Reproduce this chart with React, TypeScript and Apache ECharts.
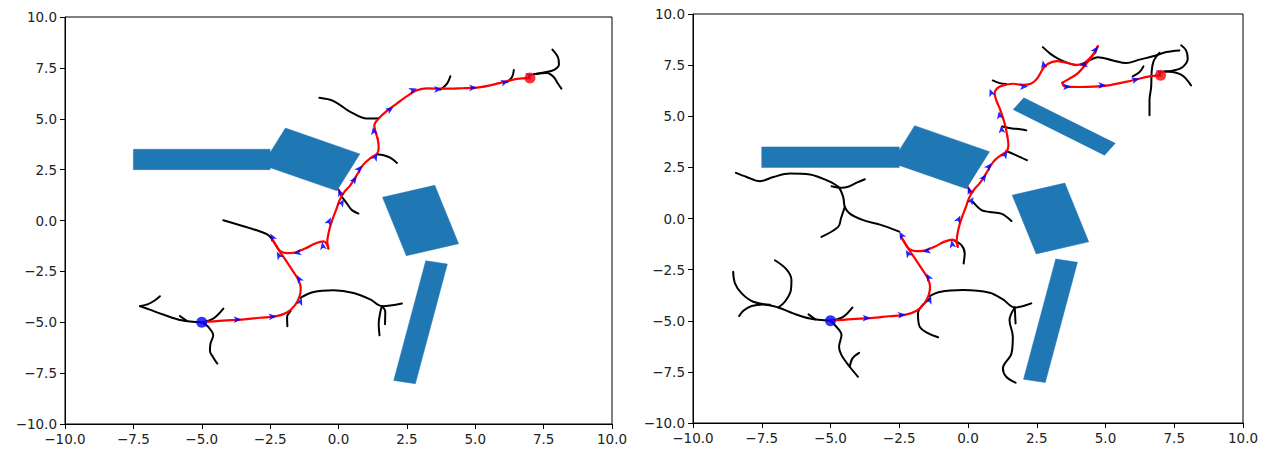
import React, { useEffect, useRef } from "react";
import * as echarts from "echarts";

// ---------- data (all in plot units) ----------
const tickMin = -10;
const tickMax = 10;
const tickStep = 2.5;

const startPoint = [-5, -5];
const goalPoint = [7, 7];

// obstacles (polygon vertices)
const obstacleBar = [[-7.5, 2.5], [-2.5, 2.5], [-2.5, 3.5], [-7.5, 3.5]];
const obstacleTilted = [[0.78, 3.27], [-0.06, 1.46], [-2.78, 2.73], [-1.94, 4.54]];
const obstacleSquare = [[1.61, 1.14], [3.52, 1.73], [4.39, -1.14], [2.48, -1.73]];
const obstacleLong = [[3.19, -1.98], [3.98, -2.14], [2.81, -8.02], [2.02, -7.86]];
const obstacleExtra = [[2.03, 5.9], [1.645, 5.325], [4.965, 3.095], [5.355, 3.675]];

const leftObstacles = [obstacleBar, obstacleTilted, obstacleSquare, obstacleLong];
const rightObstacles = [obstacleBar, obstacleTilted, obstacleSquare, obstacleLong, obstacleExtra];

// path pieces shared by both runs
const pathStart = [[-5, -5], [-4.21, -4.92], [-3.54, -4.87], [-2.87, -4.78], [-2.26, -4.7], [-1.87, -4.51], [-1.59, -4.16], [-1.43, -3.75], [-1.38, -3.34], [-1.46, -2.93], [-1.65, -2.52], [-1.89, -2.03], [-2.14, -1.54], [-2.32, -1.16], [-2.44, -0.89]];
const pathLoop = [[-2.44, -0.89], [-2.32, -1.13], [-2.14, -1.49], [-1.89, -1.6], [-1.59, -1.57], [-1.22, -1.38], [-0.85, -1.13], [-0.55, -1.03], [-0.43, -1.16], [-0.37, -1.38]];
const pathClimb = [[-0.37, -1.38], [-0.41, -1.05], [-0.34, -0.48], [-0.23, 0.02], [-0.08, 0.55], [0.04, 1.0], [0.2, 1.38], [0.43, 1.73], [0.67, 2.23], [0.92, 2.77], [1.19, 3.09], [1.41, 3.29], [1.47, 3.59], [1.43, 4.03]];
const pathSpur = [[0.1, 1.2], [0.0, 1.52]];

// left run tail
const leftPathTail = [[1.43, 4.03], [1.34, 4.44], [1.31, 4.68], [1.47, 5.01], [1.77, 5.39], [2.14, 5.75], [2.5, 6.11], [2.87, 6.4], [3.24, 6.49], [3.85, 6.48], [4.5, 6.5], [5.07, 6.53], [5.92, 6.76], [6.53, 6.96], [7, 7]];

// right run tail
const rightPathOut = [[1.43, 4.03], [1.36, 4.5], [1.3, 4.8], [1.18, 5.29], [1.03, 5.78], [0.97, 6.1], [1.05, 6.35], [1.27, 6.51], [1.64, 6.59], [2.0, 6.53], [2.3, 6.6], [2.51, 6.84], [2.73, 7.33], [2.91, 7.57], [3.21, 7.7], [3.57, 7.62], [3.94, 7.51], [4.2, 7.57], [4.44, 7.86], [4.64, 8.19], [4.72, 8.42]];
const rightPathBack = [[4.72, 8.42], [4.54, 7.98], [4.3, 7.57], [4.0, 7.11], [3.69, 6.84], [3.43, 6.64]];
const rightPathEnd = [[3.43, 6.64], [3.51, 6.46], [4.06, 6.43], [5.03, 6.5], [6.0, 6.76], [6.6, 6.95], [7, 7]];

// left tree branches
const lb1 = [[-5, -5], [-5.74, -4.9], [-6.41, -4.62], [-6.9, -4.38], [-7.26, -4.21]];
const lb2 = [[-7.26, -4.21], [-6.96, -4.11], [-6.71, -3.92], [-6.53, -3.72]];
const lb3 = [[-5, -5], [-4.58, -4.82], [-4.21, -4.33]];
const lb4 = [[-5.8, -4.69], [-5.55, -4.93]];
const lb5 = [[-5, -5], [-4.76, -5.23], [-4.58, -5.64], [-4.68, -6.05], [-4.7, -6.41], [-4.58, -6.73], [-4.43, -7.03]];
const lb6 = [[-4.21, 0.01], [-3.6, -0.23], [-2.99, -0.48], [-2.62, -0.67], [-2.44, -0.89]];
const lb7 = [[-1.75, -4.45], [-1.88, -4.75], [-1.87, -5.2]];
const lb8 = [[-1.4, -3.8], [-0.91, -3.51], [-0.18, -3.43], [0.55, -3.56], [1.16, -3.88], [1.59, -4.21], [2.32, -4.08]];
const lb9 = [[1.59, -4.21], [1.53, -4.49], [1.47, -5.06], [1.5, -5.64]];
const lb10 = [[1.59, -4.21], [1.71, -4.49], [1.7, -5.1]];
const lb11 = [[0.12, 1.16], [0.31, 0.83], [0.49, 0.51], [0.73, 0.34]];
const lb12 = [[1.41, 3.26], [1.65, 3.21], [1.89, 3.09], [2.14, 2.83]];
const lb13 = [[-0.7, 6.03], [-0.18, 5.87], [0.43, 5.34], [1.04, 5.01], [1.47, 5.03]];
const lb14 = [[3.73, 6.44], [3.97, 6.73], [4.09, 7.09]];
const lb15 = [[6.17, 6.81], [6.35, 7.06], [6.41, 7.39]];
const lb16 = [[7.14, 7.19], [7.51, 7.27], [7.9, 7.42], [8.06, 7.68], [8.02, 8.04], [7.82, 8.4]];
const lb17 = [[7.14, 7.19], [7.63, 7.25], [7.88, 7.03], [8.02, 6.73], [8.15, 6.48]];
const leftBranches = [lb1, lb2, lb3, lb4, lb5, lb6, lb7, lb8, lb9, lb10, lb11, lb12, lb13, lb14, lb15, lb16, lb17];

// right tree branches
const rb1 = [[-5, -5], [-5.75, -4.89], [-6.36, -4.64], [-6.9, -4.35], [-7.45, -4.2], [-7.87, -4.28], [-8.17, -4.51], [-8.32, -4.77]];
const rb2 = [[-6.9, -4.35], [-6.66, -4.07], [-6.44, -3.5], [-6.42, -3.01], [-6.6, -2.49], [-7.02, -2.04]];
const rb3 = [[-7.2, -4.22], [-7.81, -4.07], [-8.23, -3.66], [-8.47, -3.18], [-8.54, -2.61]];
const rb4 = [[-5, -5], [-4.54, -4.81], [-4.2, -4.35]];
const rb5 = [[-5.8, -4.69], [-5.55, -4.93]];
const rb6 = [[-5, -5], [-4.84, -5.21], [-4.6, -5.7], [-4.69, -6.27], [-4.6, -6.68], [-4.3, -7.25], [-4.0, -7.74]];
const rb7 = [[-4.3, -7.25], [-4.2, -6.84], [-3.96, -6.57]];
const rb8 = [[-2.5, -0.64], [-3.2, -0.3], [-3.81, -0.08], [-4.3, 0.24], [-4.48, 0.57], [-4.54, 1.06], [-4.72, 1.55], [-5.14, 1.87], [-5.75, 2.15], [-6.48, 2.2], [-7.08, 2.03], [-7.57, 1.82], [-8.05, 2.03], [-8.44, 2.23]];
const rb9 = [[-4.48, 0.57], [-4.62, 0.0], [-4.72, -0.41], [-5.33, -0.9]];
const rb10 = [[-4.96, 1.58], [-4.6, 1.5], [-4.36, 1.55], [-4.05, 1.75], [-3.75, 1.92]];
const rb11 = [[-1.39, -3.91], [-1.82, -4.64], [-1.75, -5.3], [-1.09, -5.81]];
const rb12 = [[-1.4, -3.8], [-1.03, -3.59], [-0.18, -3.5], [0.79, -3.63], [1.27, -3.96], [1.7, -4.35], [2.3, -4.15]];
const rb13 = [[1.7, -4.35], [1.51, -4.97], [1.63, -5.78], [1.58, -6.6], [1.27, -7.33], [1.39, -7.74], [1.73, -8.03]];
const rb14 = [[1.7, -4.35], [1.73, -5.13]];
const rb15 = [[-0.54, -1.06], [-0.24, -1.3], [-0.12, -1.71], [-0.16, -2.2]];
const rb16 = [[0.18, 0.81], [0.49, 0.41], [0.79, 0.32], [1.21, 0.24], [1.58, -0.12]];
const rb17 = [[1.39, 3.3], [1.76, 3.09], [2.14, 2.85]];
const rb18 = [[1.25, 4.5], [1.6, 4.4], [1.9, 4.37], [2.12, 4.31]];
const rb19 = [[0.9, 6.75], [1.15, 6.62], [1.39, 6.58]];
const rb20 = [[2.72, 8.38], [3.0, 8.05], [3.27, 7.82], [3.6, 7.62], [3.94, 7.49]];
const rb21 = [[4.1, 7.55], [4.3, 7.65], [4.72, 7.89], [5.27, 7.73], [5.75, 7.6], [6.24, 7.77], [6.72, 7.93], [7.21, 8.14], [7.69, 8.22]];
const rb22 = [[6.96, 8.1], [6.75, 7.7], [6.68, 7.2], [6.66, 6.43], [6.6, 5.78], [6.6, 5.05]];
const rb23 = [[7.14, 7.19], [7.45, 7.23], [7.81, 7.41], [7.99, 7.82], [7.93, 8.22], [7.75, 8.47]];
const rb24 = [[7.14, 7.19], [7.45, 7.16], [7.81, 6.98], [8.11, 6.51]];
const rb25 = [[5.99, 6.95], [6.24, 7.16], [6.38, 7.44]];
const rightBranches = [rb1, rb2, rb3, rb4, rb5, rb6, rb7, rb8, rb9, rb10, rb11, rb12, rb13, rb14, rb15, rb16, rb17, rb18, rb19, rb20, rb21, rb22, rb23, rb24, rb25];

// heading arrows [x, y, heading in degrees]
const sharedArrows = [[-3.54, -4.87, 0], [-2.26, -4.7, 5], [-1.34, -3.79, 70], [-1.52, -2.69, 120], [-2.26, -1.54, 120], [-2.5, -0.64, 120], [-1.65, -1.62, 190], [-0.6, -1.05, 100], [-0.28, 0.15, 65], [0.0, 1.57, 110], [0.2, 1.05, 60], [0.67, 2.17, 55], [0.86, 2.7, 50], [1.43, 3.3, 60]];
const leftArrows = [[1.26, 4.6, 100], [2.01, 5.58, 35], [2.87, 6.49, 20], [3.79, 6.44, 0], [5.07, 6.52, 0], [6.23, 6.85, 15], [7.14, 7.19, 15]];
const rightArrows = [[1.21, 4.56, 95], [1.12, 5.25, 100], [0.79, 6.35, 110], [2.18, 6.45, 0], [2.72, 7.73, 100], [4.06, 7.49, 190], [4.72, 8.42, 55], [3.75, 6.44, 0], [5.03, 6.51, 0], [6.24, 6.84, 15], [7.14, 7.19, 15]];

const leftPath = [pathStart, pathLoop, pathClimb, pathSpur, leftPathTail];
const rightPath = [pathStart, pathLoop, pathClimb, pathSpur, rightPathOut, rightPathBack, rightPathEnd];

// ---------- chart ----------
const fmt = (v: number) => v.toFixed(1).replace("-", "\u2212");

function axis(gi: number) {
  return {
    type: "value",
    gridIndex: gi,
    min: tickMin,
    max: tickMax,
    interval: tickStep,
    axisLine: { show: true, onZero: false, lineStyle: { color: "#000", width: 1 } },
    axisTick: { show: true, length: 5, lineStyle: { color: "#000", width: 1 } },
    axisLabel: { formatter: fmt, color: "#222", fontSize: 13.5, fontFamily: "DejaVu Sans", margin: 8 },
    splitLine: { show: false },
  };
}

function lineSeries(data: number[][], color: string, width: number, gi: number, z: number) {
  return {
    type: "line",
    data,
    xAxisIndex: gi,
    yAxisIndex: gi,
    symbol: "none",
    showSymbol: false,
    smooth: 0.35,
    lineStyle: { color, width, cap: "round", join: "round" },
    z,
    silent: true,
  };
}

function obstacleSeries(polys: number[][][], gi: number) {
  return {
    type: "custom",
    xAxisIndex: gi,
    yAxisIndex: gi,
    coordinateSystem: "cartesian2d",
    data: polys.map((_, i) => [i, 0]),
    clip: false,
    z: 1,
    silent: true,
    renderItem: (params: any, api: any) => {
      const poly = polys[api.value(0)];
      return {
        type: "polygon",
        shape: { points: poly.map((p) => api.coord(p)) },
        style: { fill: "#1f77b4", stroke: "#1f77b4", lineWidth: 0.5 },
      };
    },
  };
}

function arrowSeries(data: number[][], gi: number) {
  return {
    type: "scatter",
    xAxisIndex: gi,
    yAxisIndex: gi,
    data,
    symbol: "arrow",
    symbolSize: [5, 8],
    symbolRotate: (v: number[]) => v[2] - 90,
    itemStyle: { color: "#0000ff", opacity: 0.85 },
    z: 4,
    silent: true,
  };
}

function pointSeries(p: number[], color: string, gi: number) {
  return {
    type: "scatter",
    xAxisIndex: gi,
    yAxisIndex: gi,
    data: [p],
    symbol: "circle",
    symbolSize: 11,
    itemStyle: { color },
    z: 5,
    silent: true,
  };
}

function buildSeries(gi: number, obstacles: number[][][], branches: number[][][], path: number[][][], arrows: number[][]) {
  const s: any[] = [obstacleSeries(obstacles, gi)];
  branches.forEach((b) => s.push(lineSeries(b, "#000000", 2, gi, 2)));
  path.forEach((p) => s.push(lineSeries(p, "#ff0000", 2.2, gi, 3)));
  s.push(arrowSeries(arrows, gi));
  s.push(pointSeries(startPoint, "#0000ff", gi));
  s.push(pointSeries(goalPoint, "#ff0000", gi));
  return s;
}

export default function App() {
  const ref = useRef<HTMLDivElement>(null);
  useEffect(() => {
    if (!ref.current) return;
    const chart = echarts.init(ref.current, null, { renderer: "svg" });
    const option = {
      animation: false,
      backgroundColor: "#ffffff",
      grid: [
        { left: 65, top: 17, width: 547, height: 407, show: true, borderColor: "#000", borderWidth: 1, backgroundColor: "transparent" },
        { left: 693, top: 14, width: 550, height: 409, show: true, borderColor: "#000", borderWidth: 1, backgroundColor: "transparent" },
      ],
      xAxis: [axis(0), axis(1)],
      yAxis: [axis(0), axis(1)],
      series: [
        ...buildSeries(0, leftObstacles, leftBranches, leftPath, [...sharedArrows, ...leftArrows]),
        ...buildSeries(1, rightObstacles, rightBranches, rightPath, [...sharedArrows, ...rightArrows]),
      ],
    };
    chart.setOption(option as any);
    return () => chart.dispose();
  }, []);
  return (
    <div
      ref={ref}
      style={{ position: "fixed", left: 0, top: 0, width: 1268, height: 454, background: "#fff" }}
    />
  );
}
